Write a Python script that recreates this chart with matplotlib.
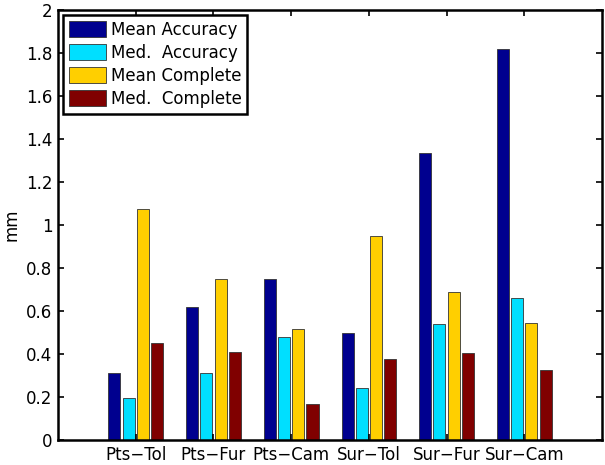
import numpy as np
import matplotlib.pyplot as plt

categories = ['Pts\u2212Tol', 'Pts\u2212Fur', 'Pts\u2212Cam', 'Sur\u2212Tol', 'Sur\u2212Fur', 'Sur\u2212Cam']
series_names = ['Mean Accuracy', 'Med.  Accuracy', 'Mean Complete', 'Med.  Complete']
mean_acc = [0.31, 0.617, 0.75, 0.499, 1.338, 1.822]
med_acc = [0.197, 0.31, 0.48, 0.242, 0.538, 0.662]
mean_comp = [1.075, 0.75, 0.518, 0.95, 0.688, 0.543]
med_comp = [0.453, 0.41, 0.166, 0.378, 0.403, 0.326]
colors = ['#00008F', '#00DFFF', '#FFCF00', '#800000']

fig = plt.figure(figsize=(6.05, 4.65), dpi=100)
ax = fig.add_axes([0.096, 0.0538, 0.899, 0.924])

x = np.arange(1, len(categories) + 1)
pitch = 0.183
width = 0.155
for i, (vals, name) in enumerate(zip([mean_acc, med_acc, mean_comp, med_comp], series_names)):
    ax.bar(x + (i - 1.5) * pitch, vals, width, color=colors[i], edgecolor='#333333',
           linewidth=0.6, label=name)

ax.set_xlim(0, 7)
ax.set_ylim(0, 2)
ax.set_xticks(x)
ax.set_xticklabels(categories)
ax.set_yticks(np.arange(0, 2.01, 0.2))
ax.set_yticklabels(['0', '0.2', '0.4', '0.6', '0.8', '1', '1.2', '1.4', '1.6', '1.8', '2'])
ax.set_ylabel('mm', fontsize=12, labelpad=4)
ax.tick_params(direction='in', top=True, right=True, length=4, width=1.2, labelsize=12, pad=4)
for s in ax.spines.values():
    s.set_linewidth(1.8)

leg = ax.legend(loc='upper left', fontsize=12, fancybox=False, edgecolor='black',
                framealpha=1, borderaxespad=0.3, handlelength=2.2, handleheight=1.1,
                labelspacing=0.3, handletextpad=0.3, borderpad=0.35)
leg.get_frame().set_linewidth(1.8)

fig.savefig('out.png', dpi=100)
